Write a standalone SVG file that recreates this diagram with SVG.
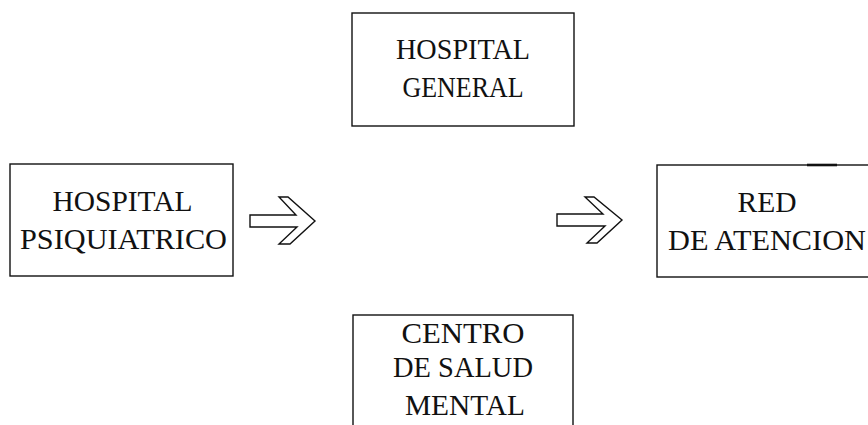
<svg xmlns="http://www.w3.org/2000/svg" width="868" height="425" viewBox="0 0 868 425">
<style>
.box{fill:#fff;stroke:#111;stroke-width:1.4}
.arr{fill:#fff;stroke:#111;stroke-width:1.4;stroke-linejoin:miter}
text{font-family:"Liberation Serif","Times New Roman",serif;font-size:29px;fill:#111;text-anchor:middle}
</style>
<rect width="868" height="425" fill="#fff"/>
<g id="hospital-general">
<rect class="box" x="352" y="13" width="222" height="113"/>
<text x="463" y="59" textLength="134" lengthAdjust="spacingAndGlyphs">HOSPITAL</text>
<text x="463" y="97" textLength="121" lengthAdjust="spacingAndGlyphs">GENERAL</text>
</g>
<g id="hospital-psiquiatrico">
<rect class="box" x="10" y="164" width="223" height="112"/>
<text x="122.5" y="211" textLength="140" lengthAdjust="spacingAndGlyphs">HOSPITAL</text>
<text x="123.5" y="249" textLength="207" lengthAdjust="spacingAndGlyphs">PSIQUIATRICO</text>
</g>
<g id="red-atencion">
<rect class="box" x="657" y="165" width="222" height="112"/>
<line x1="807" y1="165" x2="837" y2="165" stroke="#111" stroke-width="2.6"/>
<text x="767" y="212" textLength="59" lengthAdjust="spacingAndGlyphs">RED</text>
<text x="767" y="250" textLength="198" lengthAdjust="spacingAndGlyphs">DE ATENCION</text>
</g>
<g id="centro-salud-mental">
<rect class="box" x="353" y="315" width="220" height="130"/>
<text x="463" y="343" textLength="123" lengthAdjust="spacingAndGlyphs">CENTRO</text>
<text x="463" y="377" textLength="140" lengthAdjust="spacingAndGlyphs">DE SALUD</text>
<text x="465" y="415" textLength="120" lengthAdjust="spacingAndGlyphs">MENTAL</text>
</g>
<g id="connectors">
<polygon class="arr" points="250,215 296,215 279,197 288,197 315,221 290,244 279,244 297,227 250,227"/>
<polygon class="arr" points="557,214 603,214 585,197 594,197 622,220 597,243 587,243 605,226 557,226"/>
</g>
</svg>
